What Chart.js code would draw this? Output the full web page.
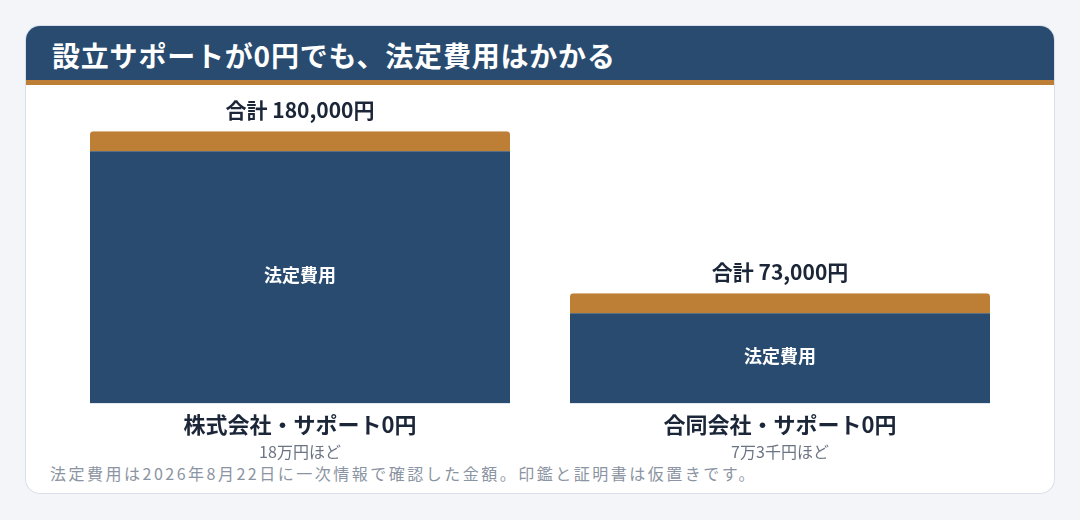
<!DOCTYPE html>
<html lang="ja">
<head>
<meta charset="utf-8">
<script src="https://cdn.jsdelivr.net/npm/chart.js@4.4.1/dist/chart.umd.min.js"></script>
<style>
  html, body { margin:0; padding:0; width:1080px; height:520px; overflow:hidden; background:#f3f5f9; font-family:"Noto Sans CJK JP","Noto Sans",sans-serif; }
  #card { position:absolute; left:26px; top:26px; width:1028px; height:467px; background:#ffffff; box-shadow:0 0 0 1px #d8dfea; border-radius:14px; overflow:hidden; }
  #head { position:absolute; left:0; top:0; width:100%; height:54px; background:#284b6f; border-bottom:5px solid #bd7e36; }
  #title { position:absolute; left:26px; top:10px; color:#ffffff; font-size:28px; font-weight:700; line-height:38px; letter-spacing:0.8px; }
  #note { position:absolute; left:24px; top:435px; color:#8b94a2; font-size:16px; line-height:24px; letter-spacing:2.5px; }
  #c { position:absolute; left:0; top:0; }
</style>
</head>
<body>
<div id="card">
  <div id="head"><div id="title">設立サポートが0円でも、法定費用はかかる</div></div>
  <div id="note">法定費用は2026年8月22日に一次情報で確認した金額。印鑑と証明書は仮置きです。</div>
</div>
<canvas id="c" width="1080" height="520"></canvas>
<script>
const categories = ["株式会社・サポート0円", "合同会社・サポート0円"];
const subLabels = ["18万円ほど", "7万3千円ほど"];
const legalFees = [180000, 73000];
const totalLabels = ["合計 180,000円", "合計 73,000円"];
const segmentLabel = "法定費用";

const NAVY = "#284b6f", ORANGE = "#bd7e36";
const FONT = '"Noto Sans CJK JP","Noto Sans",sans-serif';
const CAP = 20;

const overlay = {
  id: "overlay",
  afterDatasetsDraw(chart) {
    const ctx = chart.ctx;
    const meta = chart.getDatasetMeta(0);
    ctx.save();
    ctx.textAlign = "center";
    ctx.textBaseline = "middle";
    meta.data.forEach((bar, i) => {
      const p = bar.getProps(["x","y","base"], true);
      ctx.fillStyle = "#ffffff";
      ctx.font = "700 18px " + FONT;
      ctx.fillText(segmentLabel, p.x, (p.y + CAP + p.base) / 2 - 2);
      ctx.fillStyle = "#1b2638";
      ctx.font = "700 21px " + FONT;
      ctx.fillText(totalLabels[i], p.x, p.y - 21);
    });
    const xs = chart.scales.x;
    ctx.fillStyle = "#6b7482";
    ctx.font = "400 16px " + FONT;
    subLabels.forEach((s, i) => {
      ctx.fillText(s, xs.getPixelForValue(i), xs.top + 48);
    });
    ctx.restore();
  }
};

new Chart(document.getElementById("c"), {
  type: "bar",
  data: {
    labels: categories,
    datasets: [{
      label: segmentLabel,
      data: legalFees,
      backgroundColor: NAVY,
      borderColor: ORANGE,
      borderWidth: { top: CAP, left: 0, right: 0, bottom: 0 },
      borderSkipped: "bottom",
      borderRadius: { topLeft: 3, topRight: 3, bottomLeft: 0, bottomRight: 0 },
      barPercentage: 0.875,
      categoryPercentage: 1.0
    }]
  },
  options: {
    responsive: false,
    animation: false,
    devicePixelRatio: 1,
    layout: { padding: { left: 60, right: 60, top: 101, bottom: 82 } },
    plugins: { legend: { display: false }, tooltip: { enabled: false } },
    scales: {
      x: {
        grid: { display: false },
        border: { display: false },
        ticks: { color: "#1b2638", font: { family: FONT, size: 22, weight: "700" }, padding: 0 }
      },
      y: { display: false, min: 0, max: 200000 }
    }
  },
  plugins: [overlay]
});
</script>
</body>
</html>
